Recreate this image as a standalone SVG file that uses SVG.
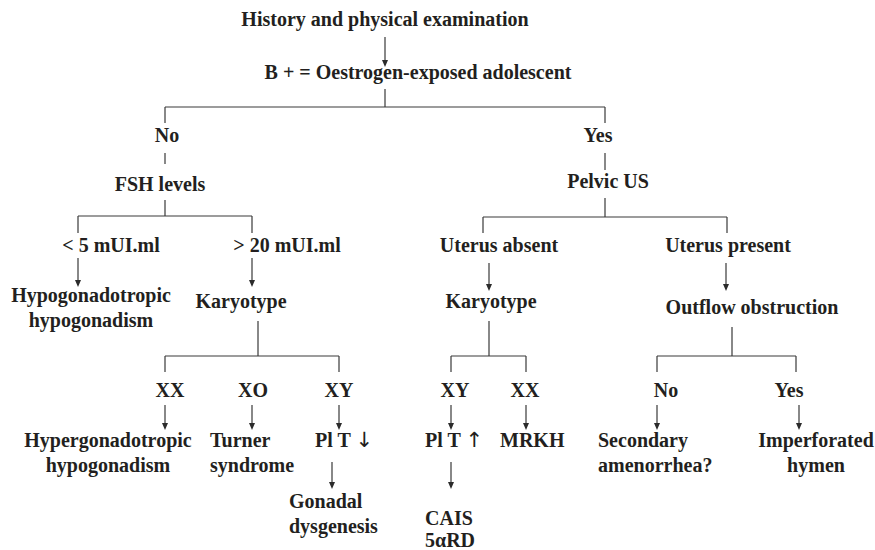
<svg xmlns="http://www.w3.org/2000/svg" width="875" height="550" viewBox="0 0 875 550">
<defs>
<style>
text{font-family:"Liberation Serif","Times New Roman",serif;font-weight:bold;font-size:20px;fill:#231f20}
.c{text-anchor:middle}
.ar{font-family:"DejaVu Sans","Liberation Sans",sans-serif;font-weight:normal;font-size:21px}
.l{stroke:#3a3a3a;stroke-width:1.2;fill:none}
.h{fill:#2b2b2b}
</style>
</defs>
<rect width="875" height="550" fill="#fff"/>
<g id="connectors">
<path class="l" d="M385,89V107M165,107H605M165,107V123M605,107V123M165,153V164M605,153V170"/>
<path class="l" d="M165,200V216M78,216H252M78,216V233M252,216V233"/>
<path class="l" d="M605,198V217M483,217H727M483,217V233M727,217V233"/>
<path class="l" d="M258,321V356M165,356H339M165,356V372M339,356V372"/>
<path class="l" d="M489,321V356M451,356H526M451,356V372M526,356V372"/>
<path class="l" d="M732,327V356M657,356H796M657,356V372M796,356V372"/>
<path class="l" d="M385,37V60M78,258V280M252,258V280M489,263V284M726,263V284M165,405V423M252,405V423M339,405V423M332,462V482M451,405V423M526,405V423M451,462V482M657,405V423M799,405V423"/>
<path class="h" d="M382,60H388L385,67Z M75,280H81L78,287Z M249,280H255L252,287Z M486,284H492L489,291Z M723,284H729L726,291Z M162,423H168L165,430Z M249,423H255L252,430Z M336,423H342L339,430Z M329,482H335L332,489Z M448,423H454L451,430Z M523,423H529L526,430Z M448,482H454L451,489Z M654,423H660L657,430Z M796,423H802L799,430Z"/>
</g>
<g id="history"><text class="c" x="385" y="26">History and physical examination</text></g>
<g id="oestrogen"><text class="c" x="418" y="79">B + = Oestrogen-exposed adolescent</text></g>
<g id="no1"><text class="c" x="167" y="142">No</text></g>
<g id="yes1"><text class="c" x="598" y="142">Yes</text></g>
<g id="fsh"><text class="c" x="160" y="191">FSH levels</text></g>
<g id="pelvic"><text class="c" x="608" y="188">Pelvic US</text></g>
<g id="lt5"><text class="c" x="111" y="252">&lt; 5 mUI.ml</text></g>
<g id="gt20"><text class="c" x="287" y="252">&gt; 20 mUI.ml</text></g>
<g id="uabsent"><text class="c" x="499" y="252">Uterus absent</text></g>
<g id="upresent"><text class="c" x="728" y="252">Uterus present</text></g>
<g id="hypo"><text class="c" x="91" y="302">Hypogonadotropic</text><text class="c" x="91" y="327">hypogonadism</text></g>
<g id="kary1"><text class="c" x="241" y="308">Karyotype</text></g>
<g id="kary2"><text class="c" x="491" y="308">Karyotype</text></g>
<g id="outflow"><text class="c" x="752" y="314">Outflow obstruction</text></g>
<g id="xx1"><text class="c" x="170" y="397">XX</text></g>
<g id="xo"><text class="c" x="253" y="397">XO</text></g>
<g id="xy1"><text class="c" x="339" y="397">XY</text></g>
<g id="xy2"><text class="c" x="455" y="397">XY</text></g>
<g id="xx2"><text class="c" x="525" y="397">XX</text></g>
<g id="no2"><text class="c" x="666" y="397">No</text></g>
<g id="yes2"><text class="c" x="789" y="397">Yes</text></g>
<g id="hyper"><text class="c" x="108" y="447">Hypergonadotropic</text><text class="c" x="108" y="472">hypogonadism</text></g>
<g id="turner"><text x="210" y="447">Turner</text><text x="210" y="472">syndrome</text></g>
<g id="pltdown"><text x="315" y="447">Pl T <tspan class="ar">↓</tspan></text></g>
<g id="gonadal"><text x="289" y="508">Gonadal</text><text x="289" y="533">dysgenesis</text></g>
<g id="pltup"><text x="425" y="447">Pl T <tspan class="ar">↑</tspan></text></g>
<g id="mrkh"><text x="500" y="447">MRKH</text></g>
<g id="cais"><text x="425" y="525">CAIS</text><text x="425" y="547">5αRD</text></g>
<g id="secondary"><text x="598" y="447">Secondary</text><text x="598" y="472">amenorrhea?</text></g>
<g id="imperf"><text class="c" x="816" y="447">Imperforated</text><text class="c" x="816" y="472">hymen</text></g>
</svg>
